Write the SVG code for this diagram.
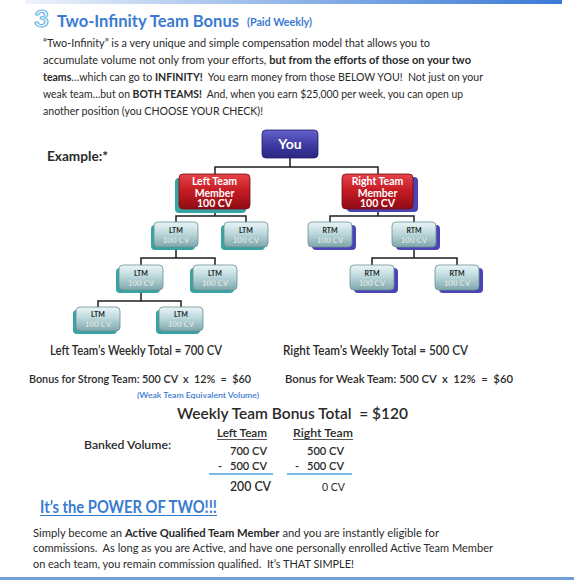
<svg xmlns="http://www.w3.org/2000/svg" width="574" height="580" viewBox="0 0 574 580" xml:space="preserve">
<style>
text{font-family:Lato,"Liberation Sans",sans-serif;fill:#2a2a2a;white-space:pre}
.b{font-weight:bold}
.sb{font-weight:600}
.box{fill:url(#gBox);stroke:#6d8f93;stroke-width:0.8}
.sht{fill:#38a3a3}
.shp{fill:#4a44b6}
.lab{font-size:7px;font-weight:bold;fill:#1c2628;text-anchor:middle}
.cv{font-size:8px;font-weight:bold;fill:#ffffff;stroke:#7d9ea2;stroke-width:0.25;text-anchor:middle}
.wt{fill:#ffffff;font-weight:bold;text-anchor:middle}
.con{fill:none;stroke:#1e1e1e;stroke-width:1.5}
.blue{fill:#3a7bd0}
</style>
<defs>
<linearGradient id="gTop" x1="0" y1="0" x2="1" y2="0">
<stop offset="0" stop-color="#eef3fb"/><stop offset="0.5" stop-color="#8fb4e8"/><stop offset="1" stop-color="#3a7ad6"/>
</linearGradient>
<linearGradient id="gBox" x1="0" y1="0" x2="0" y2="1">
<stop offset="0" stop-color="#eaf5f7"/><stop offset="0.45" stop-color="#bdd9dc"/><stop offset="1" stop-color="#7ea7ac"/>
</linearGradient>
<linearGradient id="gRed" x1="0" y1="0" x2="0" y2="1">
<stop offset="0" stop-color="#e4434a"/><stop offset="0.5" stop-color="#c41a22"/><stop offset="1" stop-color="#8e0c14"/>
</linearGradient>
<linearGradient id="gYou" x1="0" y1="0" x2="0" y2="1">
<stop offset="0" stop-color="#6662cc"/><stop offset="0.55" stop-color="#3e3aa2"/><stop offset="1" stop-color="#2a2680"/>
</linearGradient>
</defs>
<rect width="574" height="580" fill="#ffffff"/>
<rect x="25" y="0" width="537" height="4" fill="url(#gTop)"/>
<rect x="0" y="577" width="574" height="3" fill="#6f9fdc"/>

<g id="title">
<text x="34" y="27" font-size="23" font-weight="bold" style="fill:#f0f8fe;stroke:#6cb8e6;stroke-width:1.1" textLength="15" lengthAdjust="spacingAndGlyphs">3</text>
<text x="57" y="26.5" font-size="17" class="b blue" textLength="182" lengthAdjust="spacingAndGlyphs">Two-Infinity Team Bonus</text>
<text x="247" y="26" font-size="10.5" class="b blue" textLength="65" lengthAdjust="spacingAndGlyphs">(Paid Weekly)</text>
</g>

<g id="intro" font-size="11.2">
<text x="43" y="47" textLength="387" lengthAdjust="spacingAndGlyphs">“Two-Infinity” is a very unique and simple compensation model that allows you to</text>
<text x="43" y="64" textLength="428" lengthAdjust="spacingAndGlyphs">accumulate volume not only from your efforts, <tspan class="b">but from the efforts of those on your two</tspan></text>
<text x="43" y="81" textLength="440" lengthAdjust="spacingAndGlyphs"><tspan class="b">teams</tspan>…which can go to <tspan class="b">INFINITY!</tspan>  You earn money from those BELOW YOU!  Not just on your</text>
<text x="43" y="98" textLength="420" lengthAdjust="spacingAndGlyphs">weak team…but on <tspan class="b">BOTH TEAMS!</tspan>  And, when you earn $25,000 per week, you can open up</text>
<text x="43" y="115" textLength="220" lengthAdjust="spacingAndGlyphs">another position (you CHOOSE YOUR CHECK)!</text>
</g>

<g id="example">
<text x="47" y="161" font-size="12.5" class="b" textLength="61" lengthAdjust="spacingAndGlyphs">Example:*</text>
</g>

<g id="connectors">
<path class="con" d="M290 158V167M215 174V167H378V174"/>
<path class="con" d="M215 209V216M176 222V216H246V222"/>
<path class="con" d="M176 247V258M141 265V258H215V265"/>
<path class="con" d="M141 290V301M98 307V301H181V307"/>
<path class="con" d="M378 209V216M330 222V216H414V222"/>
<path class="con" d="M414 247V258M372 265V258H457V265"/>
</g>

<g id="you">
<rect x="262" y="130" width="56" height="28" rx="4" fill="url(#gYou)" stroke="#22206a" stroke-width="0.8"/>
<text x="290" y="149" font-size="14" class="wt" style="fill:#fff">You</text>
</g>

<g id="left-member">
<rect x="175" y="178" width="71" height="35" rx="4" class="sht"/>
<rect x="179" y="174" width="71" height="35" rx="4" fill="url(#gRed)" stroke="#7a0a10" stroke-width="0.8"/>
<text x="214.5" y="184.5" font-size="10.5" class="wt" style="fill:#fff">Left Team</text>
<text x="214.5" y="196.5" font-size="10.5" class="wt" style="fill:#fff">Member</text>
<text x="214.5" y="207" font-size="10.5" class="wt" style="fill:#fff">100 CV</text>
</g>

<g id="right-member">
<rect x="347" y="177" width="71" height="35" rx="4" class="shp"/>
<rect x="342" y="174" width="71" height="35" rx="4" fill="url(#gRed)" stroke="#7a0a10" stroke-width="0.8"/>
<text x="377.5" y="184.5" font-size="10.5" class="wt" style="fill:#fff">Right Team</text>
<text x="377.5" y="196.5" font-size="10.5" class="wt" style="fill:#fff">Member</text>
<text x="377.5" y="207" font-size="10.5" class="wt" style="fill:#fff">100 CV</text>
</g>

<g id="ltm1"><rect x="151" y="225" width="44" height="25" rx="4" class="sht"/><rect x="154" y="222" width="44" height="25" rx="4" class="box"/><text x="176" y="232.5" class="lab">LTM</text><text x="176" y="242.5" class="cv">100 CV</text></g>
<g id="ltm2"><rect x="221" y="225" width="44" height="25" rx="4" class="sht"/><rect x="224" y="222" width="44" height="25" rx="4" class="box"/><text x="246" y="232.5" class="lab">LTM</text><text x="246" y="242.5" class="cv">100 CV</text></g>
<g id="ltm3"><rect x="116" y="268" width="44" height="25" rx="4" class="sht"/><rect x="119" y="265" width="44" height="25" rx="4" class="box"/><text x="141" y="275.5" class="lab">LTM</text><text x="141" y="285.5" class="cv">100 CV</text></g>
<g id="ltm4"><rect x="190" y="268" width="44" height="25" rx="4" class="sht"/><rect x="193" y="265" width="44" height="25" rx="4" class="box"/><text x="215" y="275.5" class="lab">LTM</text><text x="215" y="285.5" class="cv">100 CV</text></g>
<g id="ltm5"><rect x="73" y="310" width="44" height="24" rx="4" class="sht"/><rect x="76" y="307" width="44" height="24" rx="4" class="box"/><text x="98" y="317" class="lab">LTM</text><text x="98" y="327" class="cv">100 CV</text></g>
<g id="ltm6"><rect x="156" y="310" width="44" height="24" rx="4" class="sht"/><rect x="159" y="307" width="44" height="24" rx="4" class="box"/><text x="181" y="317" class="lab">LTM</text><text x="181" y="327" class="cv">100 CV</text></g>

<g id="rtm1"><rect x="312" y="225" width="44" height="25" rx="4" class="shp"/><rect x="308" y="222" width="44" height="25" rx="4" class="box"/><text x="330" y="232.5" class="lab">RTM</text><text x="330" y="242.5" class="cv">100 CV</text></g>
<g id="rtm2"><rect x="396" y="225" width="44" height="25" rx="4" class="shp"/><rect x="392" y="222" width="44" height="25" rx="4" class="box"/><text x="414" y="232.5" class="lab">RTM</text><text x="414" y="242.5" class="cv">100 CV</text></g>
<g id="rtm3"><rect x="354" y="268" width="44" height="25" rx="4" class="shp"/><rect x="350" y="265" width="44" height="25" rx="4" class="box"/><text x="372" y="275.5" class="lab">RTM</text><text x="372" y="285.5" class="cv">100 CV</text></g>
<g id="rtm4"><rect x="439" y="268" width="44" height="25" rx="4" class="shp"/><rect x="435" y="265" width="44" height="25" rx="4" class="box"/><text x="457" y="275.5" class="lab">RTM</text><text x="457" y="285.5" class="cv">100 CV</text></g>

<g id="totals" class="sb">
<text x="50" y="355" font-size="13.5" textLength="172" lengthAdjust="spacingAndGlyphs">Left Team’s Weekly Total = 700 CV</text>
<text x="283" y="355" font-size="13.5" textLength="185" lengthAdjust="spacingAndGlyphs">Right Team’s Weekly Total = 500 CV</text>
<text x="29" y="383" font-size="12" textLength="222" lengthAdjust="spacingAndGlyphs">Bonus for Strong Team: 500 CV  x  12%  =  $60</text>
<text x="285" y="383" font-size="12" textLength="228" lengthAdjust="spacingAndGlyphs">Bonus for Weak Team: 500 CV  x  12%  =  $60</text>
<text x="137" y="398" font-size="8" class="blue" textLength="122" lengthAdjust="spacingAndGlyphs">(Weak Team Equivalent Volume)</text>
<text x="177" y="419" font-size="16" textLength="231" lengthAdjust="spacingAndGlyphs">Weekly Team Bonus Total  = $120</text>
</g>

<g id="banked" class="sb">
<text x="84" y="449" font-size="11.5" textLength="87" lengthAdjust="spacingAndGlyphs">Banked Volume:</text>
<text x="217" y="437" font-size="11" textLength="50" lengthAdjust="spacingAndGlyphs">Left Team</text>
<text x="293" y="437" font-size="11" textLength="60" lengthAdjust="spacingAndGlyphs">Right Team</text>
<line x1="217" y1="439.5" x2="267" y2="439.5" stroke="#2a2a2a" stroke-width="0.8"/>
<line x1="293" y1="439.5" x2="353" y2="439.5" stroke="#2a2a2a" stroke-width="0.8"/>
<text x="230" y="455" font-size="11" textLength="37" lengthAdjust="spacingAndGlyphs">700 CV</text>
<text x="307" y="455" font-size="11" textLength="37" lengthAdjust="spacingAndGlyphs">500 CV</text>
<text x="218" y="470" font-size="11">-</text>
<text x="230" y="470" font-size="11" textLength="37" lengthAdjust="spacingAndGlyphs">500 CV</text>
<text x="295" y="470" font-size="11">-</text>
<text x="307" y="470" font-size="11" textLength="37" lengthAdjust="spacingAndGlyphs">500 CV</text>
<line x1="209" y1="474" x2="273" y2="474" stroke="#4aa3d8" stroke-width="1.5"/>
<line x1="287" y1="474" x2="352" y2="474" stroke="#4aa3d8" stroke-width="1.5"/>
<text x="230" y="491" font-size="12.5" textLength="41" lengthAdjust="spacingAndGlyphs">200 CV</text>
<text x="322" y="491" font-size="10.5" font-weight="normal" textLength="23" lengthAdjust="spacingAndGlyphs">0 CV</text>
</g>

<g id="power">
<text x="40" y="513" font-size="16.5" class="b blue" textLength="177" lengthAdjust="spacingAndGlyphs">It’s the POWER OF TWO!!!</text>
<line x1="40" y1="515.5" x2="217" y2="515.5" stroke="#3a7bd0" stroke-width="1.2"/>
</g>

<g id="closing" font-size="11">
<text x="33" y="537" textLength="406" lengthAdjust="spacingAndGlyphs">Simply become an <tspan class="b">Active Qualified Team Member</tspan> and you are instantly eligible for</text>
<text x="33" y="552" textLength="460" lengthAdjust="spacingAndGlyphs">commissions.  As long as you are Active, and have one personally enrolled Active Team Member</text>
<text x="33" y="567.5" textLength="321" lengthAdjust="spacingAndGlyphs">on each team, you remain commission qualified.  It’s THAT SIMPLE!</text>
</g>
</svg>
